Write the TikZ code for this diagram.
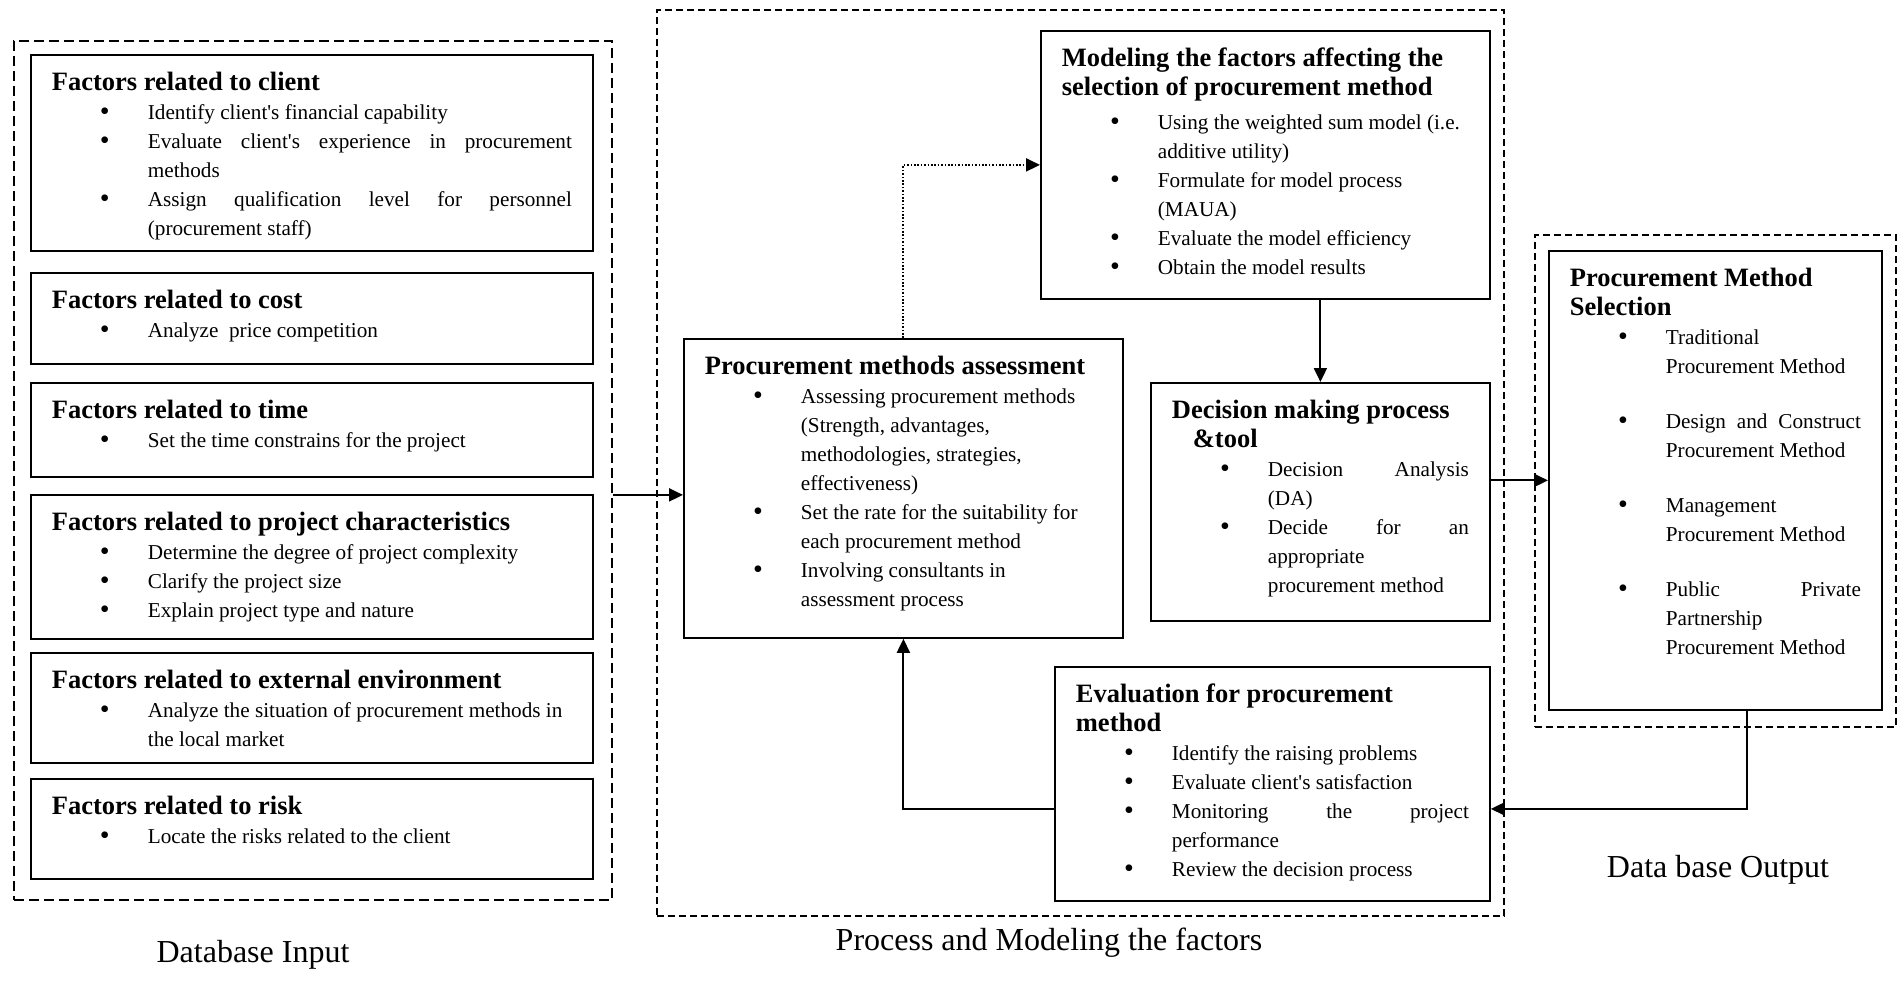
\documentclass[tikz,border=0pt]{standalone}
\usepackage{fontspec}
\setmainfont{Liberation Serif}
\usetikzlibrary{arrows.meta, positioning, fit}

\newcommand{\bodyfont}{\fontsize{10.6}{14.5}\selectfont}
\newcommand{\headfont}{\bfseries\fontsize{13.25}{14.5}\selectfont}
\newcommand{\bl}{\hspace*{26.5pt}\makebox[0pt]{\raisebox{-0.4pt}{\fontsize{14}{14}\selectfont\textbullet}}\hspace*{21.5pt}}
\newcommand{\cont}{\hspace*{48pt}}
\newcommand{\jus}[1]{\makebox[\dimexpr\linewidth-48pt\relax][s]{#1}}
\newcommand{\panel}[3]{\parbox[c][#2][t]{#1}{\raggedright\rule{0pt}{18pt}#3}}
\newcommand{\q}{\textquotesingle}

\begin{document}
\begin{tikzpicture}[
  x=0.5pt, y=-0.5pt,
  font=\bodyfont,
  factor/.style={draw, line width=0.9pt, anchor=north west,
                 inner xsep=10.5pt, inner ysep=0pt},
  group/.style={draw, line width=0.8pt, dash pattern=on 5pt off 2.5pt,
                inner sep=0pt},
  subgroup/.style={group, line width=0.6pt, dash pattern=on 3.5pt off 2pt},
  arrow/.style={-{Triangle[length=7pt, width=6.5pt]}, line width=1pt},
  dotarrow/.style={arrow, dash pattern=on 0.8pt off 0.9pt},
  caption/.style={font=\fontsize{16}{19}\selectfont}
]
\useasboundingbox (0,0) rectangle (1899,995);

\node[group, fit={(14,41) (612,900)}] (input) {};
\node[subgroup, fit={(657,10) (1504,916)}] (process) {};
\node[subgroup, fit={(1535,235) (1896,727)}] (output) {};

\node[factor] (client) at (30,54) {\panel{260pt}{98pt}{%
  {\headfont Factors related to client}\\
  \bl Identify client\q s financial capability\\
  \bl\jus{Evaluate client\q s experience in procurement}\\
  \cont methods\\
  \bl\jus{Assign qualification level for personnel}\\
  \cont (procurement staff)}};

\node[factor] (cost) at (30,272) {\panel{260pt}{45.5pt}{%
  {\headfont Factors related to cost}\\
  \bl Analyze\ \ price competition}};

\node[factor] (time) at (30,382) {\panel{260pt}{47pt}{%
  {\headfont Factors related to time}\\
  \bl Set the time constrains for the project}};

\node[factor] (project) at (30,494) {\panel{260pt}{72pt}{%
  {\headfont Factors related to project characteristics}\\
  \bl Determine the degree of project complexity\\
  \bl Clarify the project size\\
  \bl Explain project type and nature}};

\node[factor] (extern) at (30,652) {\panel{260pt}{55pt}{%
  {\headfont Factors related to external environment}\\
  \bl Analyze the situation of procurement methods in\\
  \cont the local market}};

\node[factor] (risk) at (30,778) {\panel{260pt}{50pt}{%
  {\headfont Factors related to risk}\\
  \bl Locate the risks related to the client}};

\node[factor] (model) at (1040,30) {\panel{203.5pt}{134pt}{%
  {\headfont Modeling the factors affecting the}\\
  {\headfont selection of procurement method}\\[2.5pt]
  \bl Using the weighted sum model (i.e.\\
  \cont additive utility)\\
  \bl Formulate for model process\\
  \cont (MAUA)\\
  \bl Evaluate the model efficiency\\
  \bl Obtain the model results}};

\node[factor] (assess) at (683,338) {\panel{198.5pt}{149.5pt}{%
  {\headfont Procurement methods assessment}\\
  \bl Assessing procurement methods\\
  \cont (Strength, advantages,\\
  \cont methodologies, strategies,\\
  \cont effectiveness)\\
  \bl Set the rate for the suitability for\\
  \cont each procurement method\\
  \bl Involving consultants in\\
  \cont assessment process}};

\node[factor] (decide) at (1150,382) {\panel{148.5pt}{119pt}{%
  {\headfont Decision making process}\\
  \hspace*{10.5pt}{\headfont \&tool}\\
  \bl\jus{Decision Analysis}\\
  \cont (DA)\\
  \bl\jus{Decide for an}\\
  \cont appropriate\\
  \cont procurement method}};

\node[factor] (eval) at (1054,666) {\panel{196.5pt}{117pt}{%
  {\headfont Evaluation for procurement}\\
  {\headfont method}\\
  \bl Identify the raising problems\\
  \bl Evaluate client\q s satisfaction\\
  \bl\jus{Monitoring the project}\\
  \cont performance\\
  \bl Review the decision process}};

\node[factor] (select) at (1548,250) {\panel{145.5pt}{229.5pt}{%
  {\headfont Procurement Method}\\
  {\headfont Selection}\\
  \bl Traditional\\
  \cont Procurement Method\\[13pt]
  \bl\jus{Design and Construct}\\
  \cont Procurement Method\\[13pt]
  \bl Management\\
  \cont Procurement Method\\[13pt]
  \bl\jus{Public Private}\\
  \cont Partnership\\
  \cont Procurement Method}};

\node[caption] (inlab) at (253,955) {Database Input};
\node[caption] (proclab) at (1049,943) {Process and Modeling the factors};
\node[caption] (outlab) at (1718,870) {Data base Output};

\coordinate (entry) at ([yshift=-3.25pt]assess.west);
\coordinate (outlet) at ([xshift=15.75pt]select.south);
\coordinate (back) at ([yshift=-12.5pt]eval.east);

\draw[arrow] (input.east |- entry) -- (entry);
\draw[dotarrow] (assess.north) |- (model.west);
\draw[arrow] (model.south -| decide.north) -- (decide.north);
\draw[arrow] (decide.east |- select.west) -- (select.west);
\draw[arrow] (outlet) |- (back);
\draw[arrow] (eval.west |- back) -| (assess.south);

\end{tikzpicture}
\end{document}
